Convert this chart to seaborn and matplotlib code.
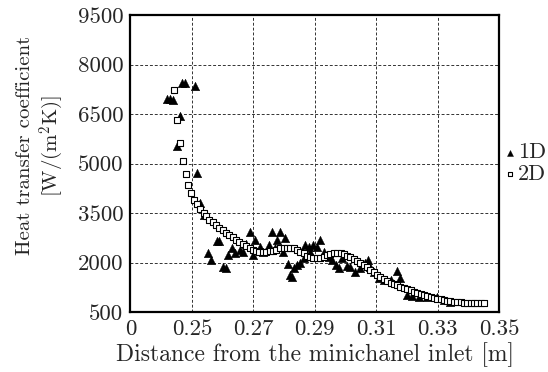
import numpy as np
import pandas as pd
import matplotlib
matplotlib.use('Agg')
import matplotlib.pyplot as plt
import seaborn as sns

# 1D model - triangles
x_1d = [0.2418, 0.2429, 0.2440, 0.2452, 0.2461, 0.2467, 0.2478, 0.2509, 0.2518, 0.2528,
        0.2540, 0.2551, 0.2563, 0.2581, 0.2590, 0.2603, 0.2612, 0.2619, 0.2630, 0.2641,
        0.2657, 0.2668, 0.2677, 0.2690, 0.2699, 0.2706, 0.2722, 0.2733, 0.2750, 0.2761,
        0.2771, 0.2777, 0.2788, 0.2797, 0.2804, 0.2813, 0.2820, 0.2826, 0.2831, 0.2842,
        0.2853, 0.2864, 0.2869, 0.2880, 0.2886, 0.2896, 0.2907, 0.2918, 0.2929, 0.2945,
        0.2956, 0.2970, 0.2978, 0.2989, 0.3005, 0.3016, 0.3032, 0.3049, 0.3065, 0.3073,
        0.3081, 0.3092, 0.3108, 0.3125, 0.3147, 0.3169, 0.3179, 0.3201, 0.3217, 0.3239,
        0.3266, 0.3299, 0.3321, 0.3342]
h_1d = [6943, 6943, 6913, 5522, 6429, 7427, 7427, 7337, 4705, 3797,
        3434, 2294, 2073, 2648, 2648, 1870, 1822, 2224, 2427, 2276,
        2376, 2324, 2578, 2929, 2224, 2678, 2475, 2324, 2527, 2929,
        2427, 2678, 2929, 2324, 2739, 1943, 1619, 1568, 1822, 1922,
        1973, 2124, 2527, 2475, 2324, 2527, 2475, 2678, 2324, 2173,
        2073, 1922, 1822, 2124, 1892, 1870, 1701, 1822, 1973, 2073,
        1870, 1719, 1519, 1468, 1468, 1740, 1519, 1014, 984, 963,
        963, 963, 863, 812]

# 2D model - squares
x_2d = [0.2442, 0.2451, 0.2462, 0.2470, 0.2480, 0.2489, 0.2498, 0.2508, 0.2516, 0.2527,
        0.2538, 0.2546, 0.2557, 0.2568, 0.2579, 0.2590, 0.2601, 0.2612, 0.2622, 0.2633,
        0.2644, 0.2655, 0.2666, 0.2677, 0.2688, 0.2699, 0.2709, 0.2720, 0.2731, 0.2742,
        0.2753, 0.2764, 0.2775, 0.2788, 0.2799, 0.2810, 0.2820, 0.2831, 0.2842, 0.2853,
        0.2864, 0.2875, 0.2886, 0.2896, 0.2907, 0.2918, 0.2929, 0.2940, 0.2951, 0.2962,
        0.2973, 0.2984, 0.2994, 0.3005, 0.3016, 0.3027, 0.3038, 0.3049, 0.3060, 0.3071,
        0.3081, 0.3092, 0.3103, 0.3114, 0.3125, 0.3136, 0.3147, 0.3157, 0.3168, 0.3179,
        0.3190, 0.3201, 0.3212, 0.3223, 0.3234, 0.3245, 0.3255, 0.3266, 0.3277, 0.3288,
        0.3299, 0.3310, 0.3321, 0.3332, 0.3342, 0.3353, 0.3364, 0.3375, 0.3386, 0.3397,
        0.3408, 0.3418, 0.3429, 0.3440, 0.3451]
h_2d = [7237, 6329, 5621, 5077, 4675, 4342, 4109, 3909, 3767, 3637,
        3516, 3404, 3304, 3232, 3153, 3062, 2981, 2899, 2829, 2760,
        2699, 2627, 2557, 2497, 2427, 2376, 2345, 2324, 2315, 2315,
        2336, 2354, 2376, 2427, 2445, 2457, 2445, 2427, 2376, 2324,
        2276, 2194, 2155, 2134, 2134, 2143, 2173, 2224, 2255, 2276,
        2285, 2276, 2255, 2209, 2164, 2103, 2043, 1982, 1922, 1861,
        1786, 1710, 1619, 1559, 1498, 1438, 1392, 1353, 1317, 1271,
        1232, 1196, 1159, 1120, 1084, 1051, 1021, 993, 963, 936,
        908, 884, 863, 842, 827, 812, 803, 793, 784, 778,
        772, 769, 766, 763, 763]

x_ticks = [0.23, 0.25, 0.27, 0.29, 0.31, 0.33, 0.35]
x_tick_labels = ['0', '0.25', '0.27', '0.29', '0.31', '0.33', '0.35']
y_ticks = [500, 2000, 3500, 5000, 6500, 8000, 9500]

df1 = pd.DataFrame({'x': x_1d, 'h': h_1d})
df2 = pd.DataFrame({'x': x_2d, 'h': h_2d})

sns.set_style('white')
plt.rcParams['font.family'] = ['cmr10', 'DejaVu Serif']
plt.rcParams['mathtext.fontset'] = 'cm'
plt.rcParams['axes.formatter.use_mathtext'] = True

fig = plt.figure(figsize=(5.48, 3.72), dpi=100)
ax = fig.add_axes([0.238, 0.161, 0.6726, 0.7987])

sns.scatterplot(data=df1, x='x', y='h', marker='^', s=38, color='black',
                edgecolor='black', linewidth=0.3, ax=ax, label='1D', zorder=3)
sns.scatterplot(data=df2, x='x', y='h', marker='s', s=22, facecolor='white',
                edgecolor='black', linewidth=0.8, ax=ax, label='2D', zorder=4)

ax.set_xlim(0.23, 0.35)
ax.set_ylim(500, 9500)
ax.set_xticks(x_ticks)
ax.set_xticklabels(x_tick_labels)
ax.set_yticks(y_ticks)
ax.set_yticklabels([str(v) for v in y_ticks])
ax.tick_params(length=0, labelsize=16.5, pad=5)
ax.grid(True, color='#333333', linestyle=(0, (3, 2)), linewidth=0.7)
for sp in ax.spines.values():
    sp.set_linewidth(1.6)
    sp.set_color('black')

ax.set_xlabel('Distance from the minichanel inlet [m]', fontsize=17, labelpad=3)
ax.set_ylabel('Heat transfer coefficient\n[W/(m$^2$K)]', fontsize=15,
              linespacing=1.2)
ax.yaxis.set_label_coords(-0.175, 0.56)

leg = ax.legend(loc='center left', bbox_to_anchor=(1.016, 0.5), frameon=False,
                fontsize=16, handlelength=0.45, handletextpad=0.15,
                borderaxespad=0, borderpad=0, labelspacing=0.1, markerscale=0.7)

plt.savefig('out.png', dpi=100)
